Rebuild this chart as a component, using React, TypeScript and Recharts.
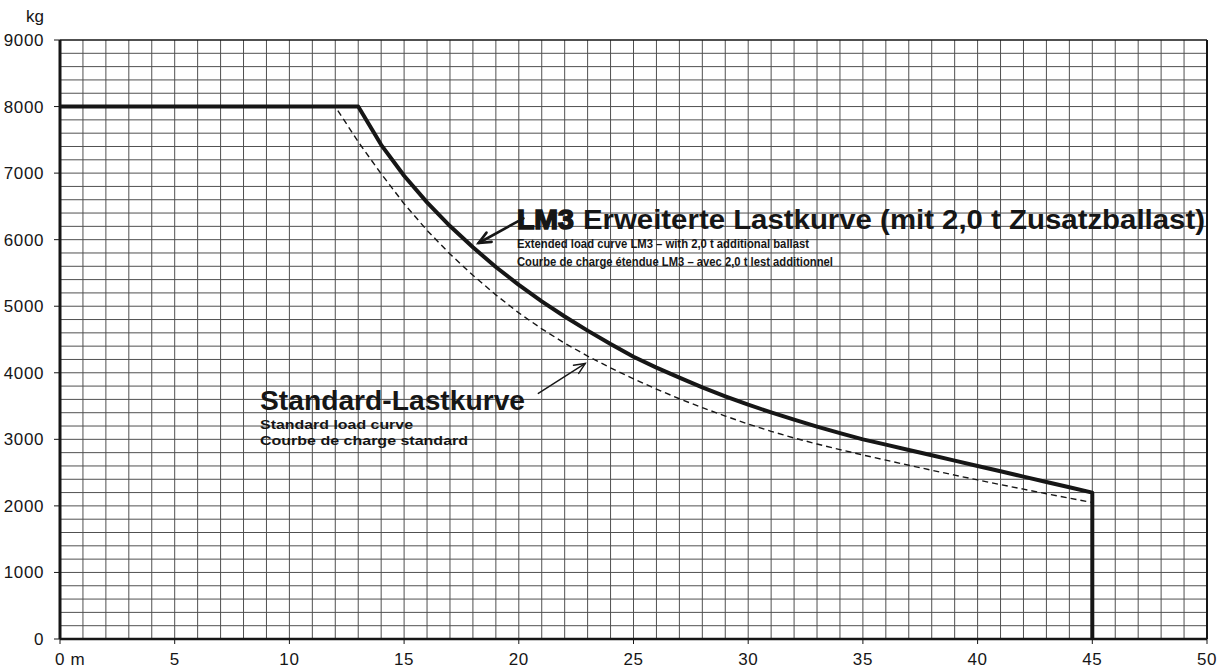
import React from 'react';
import {
  LineChart,
  Line,
  XAxis,
  YAxis,
  ReferenceLine,
  ReferenceDot,
} from 'recharts';

// ticks / grid
const xTicks = [0, 5, 10, 15, 20, 25, 30, 35, 40, 45, 50];
const yTicks = [0, 1000, 2000, 3000, 4000, 5000, 6000, 7000, 8000, 9000];
const gridX = Array.from({ length: 49 }, (_, i) => i + 1);
const gridY = Array.from({ length: 44 }, (_, i) => (i + 1) * 200);

// LM3 extended load curve (radius m, load kg)
const lm3Radius = [0, 13, 14, 15, 16, 17, 18, 19, 20, 21, 22, 23, 24, 25, 26, 27, 28, 29, 30,
  31, 32, 33, 34, 35, 36, 37, 38, 39, 40, 41, 42, 43, 44, 45, 45];
const lm3Load = [8000, 8000, 7425, 6960, 6560, 6205, 5885, 5590, 5320, 5074, 4846, 4633, 4431,
  4240, 4078, 3926, 3782, 3647, 3520, 3405, 3295, 3191, 3093, 3000, 2920, 2840, 2760, 2680,
  2600, 2520, 2440, 2360, 2280, 2200, 0];

// standard load curve
const stdRadius = [0, 12, 13, 14, 15, 16, 17, 18, 19, 20, 21, 22, 23, 24, 25, 26, 27, 28, 29,
  30, 31, 32, 33, 34, 35, 36, 37, 38, 39, 40, 41, 42, 43, 44, 45];
const stdLoad = [8000, 8000, 7470, 6990, 6540, 6140, 5785, 5465, 5170, 4900, 4660, 4445, 4250,
  4073, 3910, 3755, 3610, 3475, 3350, 3230, 3120, 3020, 2930, 2845, 2765, 2687, 2611, 2536,
  2462, 2390, 2320, 2251, 2183, 2116, 2050];

const lm3Data = lm3Radius.map((r, i) => ({ r, load: lm3Load[i] }));
const stdData = stdRadius.map((r, i) => ({ r, load: stdLoad[i] }));

// annotation anchors (data coords)
const lm3LabelAt = { x: 19.92, y: 6160 };
const stdLabelAt = { x: 8.72, y: 3440 };
const lm3Arrow = [{ x: 20.2, y: 6320 }, { x: 18.25, y: 5950 }];
const stdArrow = [{ x: 20.85, y: 3690 }, { x: 22.9, y: 4140 }];

const FONT = "'Liberation Sans', Arial, Helvetica, sans-serif";
const INK = '#161616';
const GRID = '#505050';

const arrowShape = (width: number, head: number) => (props: any) => {
  const { x1, y1, x2, y2 } = props;
  const a = Math.atan2(y2 - y1, x2 - x1);
  const s = 0.42;
  const ax = x2 - head * Math.cos(a - s);
  const ay = y2 - head * Math.sin(a - s);
  const bx = x2 - head * Math.cos(a + s);
  const by = y2 - head * Math.sin(a + s);
  return (
    <g stroke={INK} strokeWidth={width} fill="none" strokeLinecap="round">
      <line x1={x1} y1={y1} x2={x2} y2={y2} />
      <polyline points={`${ax},${ay} ${x2},${y2} ${bx},${by}`} />
    </g>
  );
};

const Lm3Label = (props: any) => {
  const { cx, cy } = props;
  return (
    <g fill={INK} fontFamily={FONT} fontWeight="bold">
      <text x={cx} y={cy} fontSize={28} textLength={57} lengthAdjust="spacingAndGlyphs"
        stroke={INK} strokeWidth={1.6}>LM3</text>
      <text x={cx + 66} y={cy} fontSize={27} textLength={622} lengthAdjust="spacingAndGlyphs">
        Erweiterte Lastkurve (mit 2,0 t Zusatzballast)</text>
      <text x={cx} y={cy + 19} fontSize={13.5} textLength={292} lengthAdjust="spacingAndGlyphs">
        Extended load curve LM3 – with 2,0 t additional ballast</text>
      <text x={cx} y={cy + 37} fontSize={13.5} textLength={316} lengthAdjust="spacingAndGlyphs">
        Courbe de charge étendue LM3 – avec 2,0 t lest additionnel</text>
    </g>
  );
};

const StdLabel = (props: any) => {
  const { cx, cy } = props;
  return (
    <g fill={INK} fontFamily={FONT} fontWeight="bold">
      <text x={cx} y={cy} fontSize={28} textLength={265} lengthAdjust="spacingAndGlyphs">
        Standard-Lastkurve</text>
      <text x={cx} y={cy + 19} fontSize={13.5} textLength={153} lengthAdjust="spacingAndGlyphs">
        Standard load curve</text>
      <text x={cx} y={cy + 35} fontSize={13.5} textLength={208} lengthAdjust="spacingAndGlyphs">
        Courbe de charge standard</text>
    </g>
  );
};

const UnitLabel = (props: any) => (
  <text x={props.cx - 16} y={props.cy - 18} textAnchor="end" fontSize={17}
    fontFamily={FONT} fill={INK}>kg</text>
);

const YTick = (props: any) => {
  const { x, y, payload } = props;
  return (
    <text x={x} y={y} dy="0.355em" textAnchor="end" fontSize={17} letterSpacing={0.6}
      fontFamily={FONT} fill={INK}>
      {payload.value}
    </text>
  );
};

const XTick = (props: any) => {
  const { x, y, payload } = props;
  const v = payload.value;
  return (
    <text x={v === 0 ? x - 5 : x} y={y} dy="0.71em" textAnchor={v === 0 ? 'start' : 'middle'}
      fontSize={17} letterSpacing={0.6} fontFamily={FONT} fill={INK}>
      {v === 0 ? '0 m' : v}
    </text>
  );
};

export default function App() {
  return (
    <div style={{ position: 'absolute', left: 0, top: 0, background: '#fff' }}>
      <LineChart width={1221} height={668} margin={{ top: 40, right: 14, left: 0, bottom: 0 }}>
        <XAxis
          dataKey="r"
          type="number"
          domain={[0, 50]}
          ticks={xTicks}
          height={29}
          tickSize={5}
          tickMargin={9}
          tick={<XTick />}
          axisLine={{ stroke: INK, strokeWidth: 2.5 }}
          tickLine={{ stroke: INK }}
          allowDuplicatedCategory
        />
        <YAxis
          type="number"
          domain={[0, 9000]}
          ticks={yTicks}
          width={60}
          tickSize={6}
          tickMargin={10}
          tick={<YTick />}
          axisLine={{ stroke: INK, strokeWidth: 3 }}
          tickLine={{ stroke: INK }}
        />
        {gridX.map((v) => (
          <ReferenceLine key={`gx${v}`} x={v} stroke={GRID} strokeWidth={1} />
        ))}
        {gridY.map((v) => (
          <ReferenceLine key={`gy${v}`} y={v} stroke={GRID} strokeWidth={1} />
        ))}
        <ReferenceLine y={9000} stroke={INK} strokeWidth={1.5} />
        <ReferenceLine x={50} stroke={INK} strokeWidth={2} />
        <Line
          data={stdData}
          dataKey="load"
          type="linear"
          stroke={INK}
          strokeWidth={1.4}
          strokeDasharray="6 4"
          dot={false}
          isAnimationActive={false}
        />
        <Line
          data={lm3Data}
          dataKey="load"
          type="linear"
          stroke={INK}
          strokeWidth={4}
          strokeLinejoin="round"
          dot={false}
          isAnimationActive={false}
        />
        <ReferenceLine segment={lm3Arrow} shape={arrowShape(2.6, 13)} />
        <ReferenceLine segment={stdArrow} shape={arrowShape(1.4, 12)} />
        <ReferenceDot x={lm3LabelAt.x} y={lm3LabelAt.y} r={0} shape={<Lm3Label />} />
        <ReferenceDot x={stdLabelAt.x} y={stdLabelAt.y} r={0} shape={<StdLabel />} />
        <ReferenceDot x={0} y={9000} r={0} ifOverflow="visible" shape={<UnitLabel />} />
      </LineChart>
    </div>
  );
}
